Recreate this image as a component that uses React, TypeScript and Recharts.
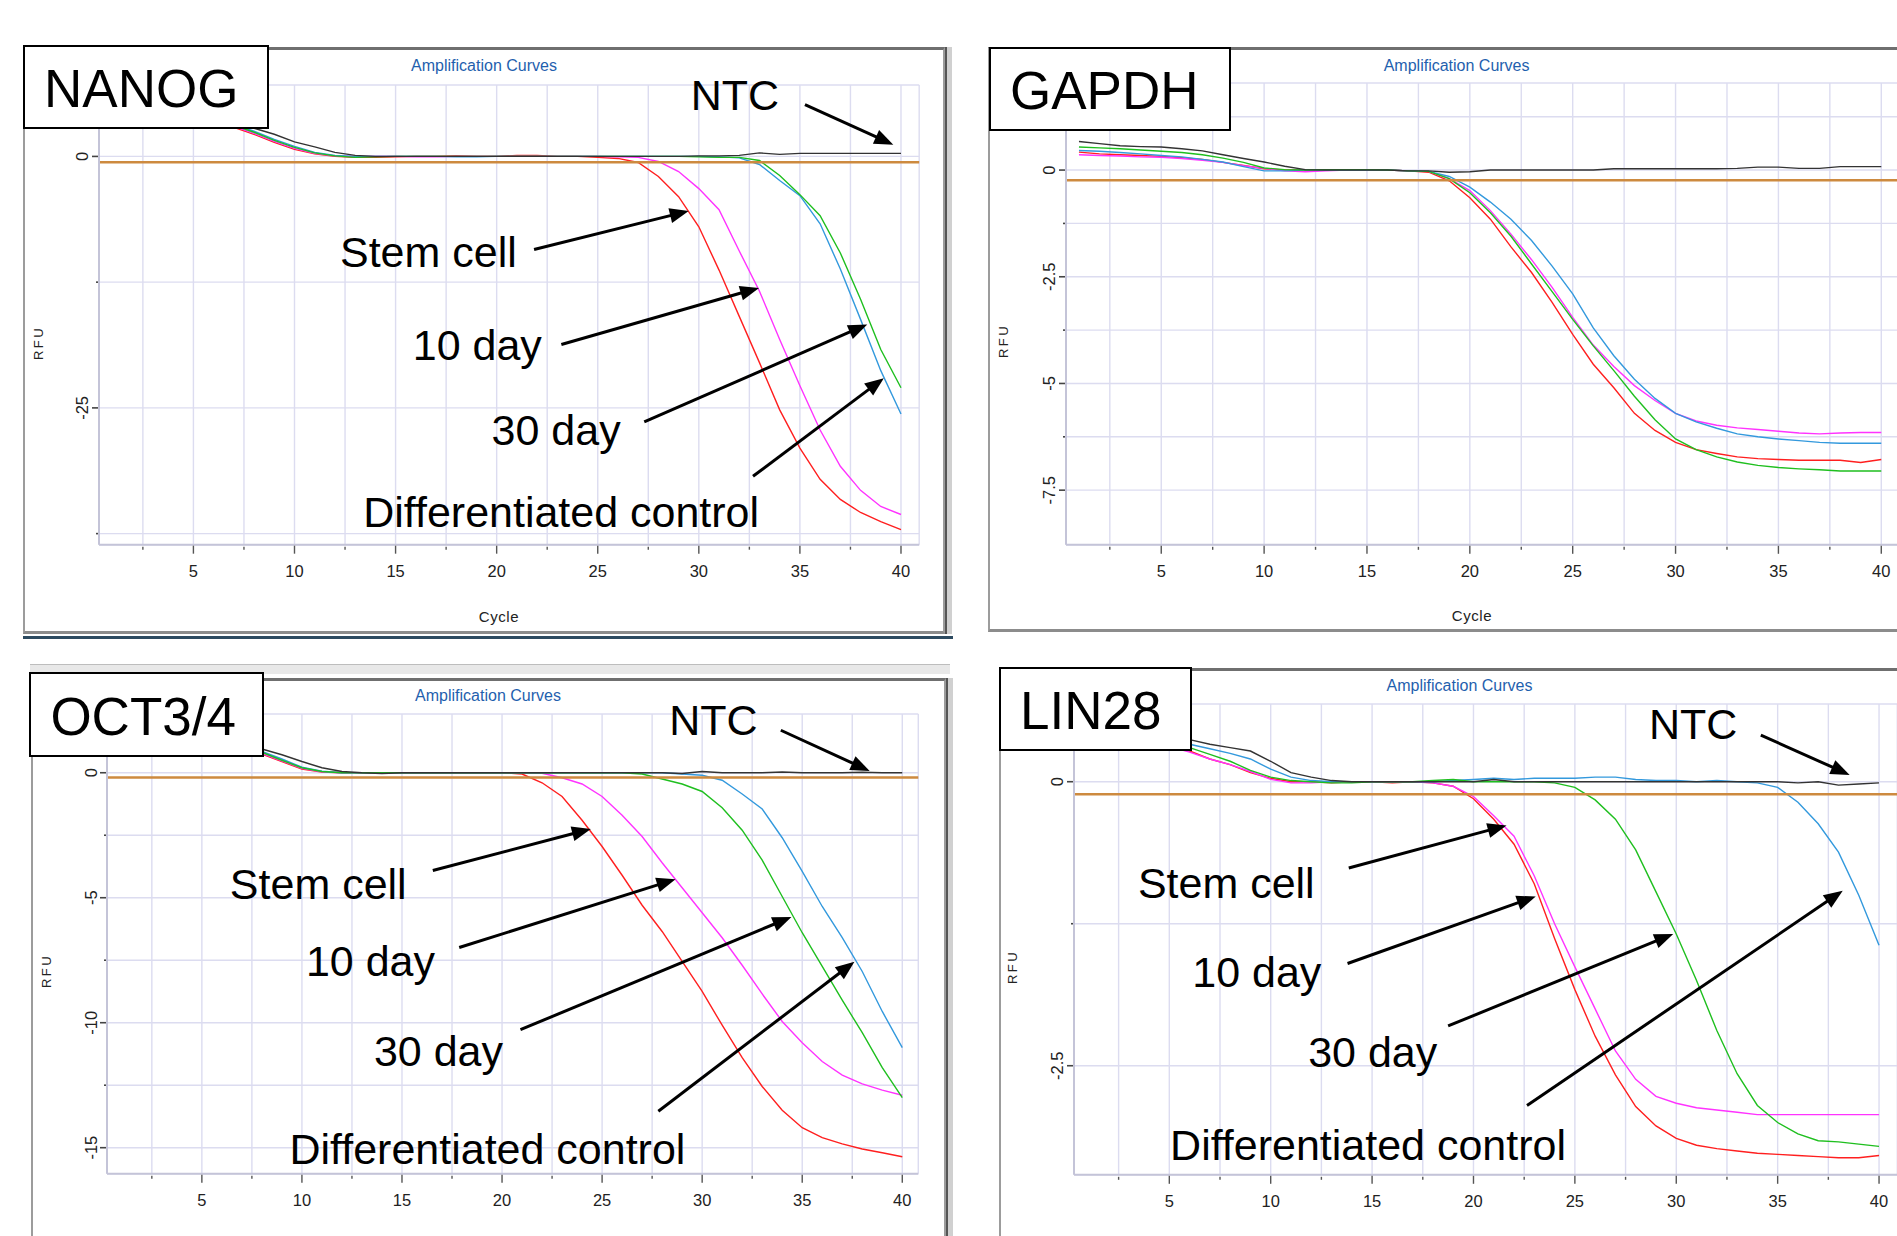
import React from 'react';
import { LineChart, Line, XAxis, YAxis, CartesianGrid, ReferenceLine, ReferenceDot } from 'recharts';

const FONT = '"Liberation Sans", Arial, Helvetica, sans-serif';

// ---------- shared axes ----------
const cycles = [
  1, 2, 3, 4, 5, 6, 7, 8, 9, 10,
  11, 12, 13, 14, 15, 16, 17, 18, 19, 20,
  21, 22, 23, 24, 25, 26, 27, 28, 29, 30,
  31, 32, 33, 34, 35, 36, 37, 38, 39, 40,
];
const xTickValues = [2.5, 5, 7.5, 10, 12.5, 15, 17.5, 20, 22.5, 25, 27.5, 30, 32.5, 35, 37.5, 40];

// ---------- NANOG ----------
const nanogRed = [
  5.0, 4.8, 4.5, 4.2, 3.8, 3.4, 2.9, 2.2, 1.4, 0.7,
  0.25, 0.02, -0.1, -0.1, -0.05, 0, 0, 0.05, 0, 0,
  0.1, 0.1, 0, 0, -0.1, -0.2, -0.6, -2.0, -4.0, -7.0,
  -11.3, -15.9, -20.5, -25.2, -29.0, -32.1, -34.1, -35.4, -36.3, -37.1,
];
const nanogMagenta = [
  5.1, 4.9, 4.6, 4.3, 3.9, 3.5, 3.0, 2.3, 1.5, 0.8,
  0.3, 0.05, 0, 0, 0, -0.05, -0.05, 0, 0, 0,
  0, 0, 0, 0, 0, -0.05, -0.1, -0.5, -1.5, -3.2,
  -5.3, -9.4, -13.4, -18.2, -22.8, -27.2, -30.8, -33.2, -34.8, -35.6,
];
const nanogGreen = [
  5.2, 5.0, 4.7, 4.4, 4.0, 3.6, 3.1, 2.4, 1.6, 0.9,
  0.35, 0.05, -0.1, -0.05, 0, 0, 0, 0, 0, 0,
  0, 0, 0, 0, 0, 0, 0, 0, 0, -0.05,
  -0.1, -0.1, -0.4, -1.9, -3.8, -5.9, -9.6, -14.2, -19.2, -23.0,
];
const nanogBlue = [
  5.3, 5.1, 4.8, 4.5, 4.1, 3.7, 3.2, 2.5, 1.7, 1.0,
  0.4, 0.1, 0, 0, 0, 0, 0, -0.05, -0.05, 0,
  0, 0, 0, 0, 0, 0, 0, 0, 0, 0,
  -0.05, -0.15, -0.8, -2.4, -3.9, -6.7, -11.2, -16.2, -21.3, -25.6,
];
const nanogBlack = [
  5.4, 5.2, 4.9, 4.6, 4.2, 3.8, 3.3, 2.8, 2.2, 1.45,
  0.95, 0.4, 0.1, 0, 0, 0, 0, 0, 0, 0,
  0, 0, 0, 0, 0, 0, 0, 0, 0, 0.05,
  0.05, 0.1, 0.35, 0.2, 0.3, 0.3, 0.3, 0.3, 0.3, 0.3,
];
const nanogYTicks = [-37.5, -25, -12.5, 0];
const nanogYLabels = [-25, 0];

// ---------- GAPDH ----------
const gapdhRed = [
  0.42, 0.38, 0.36, 0.34, 0.32, 0.29, 0.25, 0.18, 0.11, 0.03,
  0, 0, 0, 0, 0, 0, -0.02, -0.05, -0.25, -0.65,
  -1.15, -1.8, -2.4, -3.1, -3.85, -4.55, -5.1, -5.7, -6.1, -6.38,
  -6.55, -6.64, -6.72, -6.76, -6.78, -6.8, -6.8, -6.8, -6.85, -6.78,
];
const gapdhMagenta = [
  0.36, 0.34, 0.33, 0.31, 0.3, 0.27, 0.23, 0.18, 0.1, 0.04,
  -0.02, -0.04, -0.02, 0, 0, 0, -0.02, -0.03, -0.2, -0.48,
  -0.95, -1.5, -2.1, -2.75, -3.45, -4.1, -4.6, -5.05, -5.4, -5.7,
  -5.88, -5.98, -6.04, -6.08, -6.12, -6.16, -6.18, -6.16, -6.15, -6.15,
];
const gapdhGreen = [
  0.54, 0.52, 0.5, 0.47, 0.44, 0.41, 0.36, 0.28, 0.18, 0.05,
  0.01, 0, 0.01, 0.01, 0.01, 0, -0.02, -0.03, -0.2, -0.53,
  -1.0, -1.55, -2.2, -2.85, -3.5, -4.12, -4.7, -5.3, -5.85, -6.3,
  -6.55, -6.72, -6.84, -6.92, -6.97, -7.0, -7.02, -7.05, -7.05, -7.05,
];
const gapdhBlue = [
  0.46, 0.44, 0.41, 0.38, 0.34, 0.31, 0.25, 0.19, 0.08, -0.02,
  -0.02, 0, 0, 0, 0, 0, -0.02, -0.03, -0.15, -0.4,
  -0.75, -1.15, -1.65, -2.25, -2.9, -3.7, -4.35, -4.9, -5.35, -5.7,
  -5.9, -6.05, -6.18, -6.25, -6.3, -6.34, -6.38, -6.4, -6.4, -6.4,
];
const gapdhBlack = [
  0.67, 0.62, 0.57, 0.55, 0.54, 0.5, 0.45, 0.36, 0.27, 0.19,
  0.09, 0.01, 0, 0, 0, 0, -0.02, -0.02, -0.05, -0.04,
  0, 0, 0, 0, 0, 0, 0.03, 0.03, 0.03, 0.03,
  0.03, 0.03, 0.04, 0.07, 0.07, 0.04, 0.04, 0.08, 0.08, 0.08,
];
const gapdhYTicks = [-7.5, -6.25, -5, -3.75, -2.5, -1.25, 0, 1.25];
const gapdhYLabels = [-7.5, -5, -2.5, 0];

// ---------- OCT3/4 ----------
const octRed = [
  1.8, 1.7, 1.6, 1.5, 1.4, 1.25, 1.05, 0.75, 0.45, 0.15,
  0.03, 0, 0, 0, 0, 0, 0, 0, 0, 0,
  -0.05, -0.4, -0.95, -1.9, -2.95, -4.1, -5.3, -6.35, -7.55, -8.75,
  -10.1, -11.4, -12.55, -13.5, -14.2, -14.6, -14.85, -15.05, -15.2, -15.36,
];
const octMagenta = [
  1.8, 1.7, 1.6, 1.5, 1.4, 1.25, 1.05, 0.78, 0.48, 0.18,
  0.04, 0, 0, 0, 0, 0, 0, 0, 0, 0,
  0, -0.02, -0.2, -0.45, -0.95, -1.7, -2.55, -3.6, -4.6, -5.6,
  -6.6, -7.7, -8.85, -9.95, -10.8, -11.55, -12.1, -12.45, -12.7, -12.9,
];
const octGreen = [
  1.85, 1.75, 1.65, 1.55, 1.45, 1.3, 1.1, 0.82, 0.5, 0.2,
  0.05, 0, 0, 0, 0, 0, 0, 0, 0, 0,
  0, 0, 0, 0, 0, 0, -0.05, -0.25, -0.45, -0.75,
  -1.4, -2.3, -3.5, -4.95, -6.4, -7.75, -9.1, -10.4, -11.8, -13.0,
];
const octBlue = [
  1.9, 1.8, 1.7, 1.6, 1.5, 1.35, 1.15, 0.85, 0.55, 0.22,
  0.06, 0, 0, 0, 0, 0, 0, 0, 0, 0,
  0, 0, 0, 0, 0, 0, 0, 0, -0.05, -0.1,
  -0.3, -0.85, -1.45, -2.6, -3.95, -5.35, -6.6, -7.95, -9.55, -11.0,
];
const octBlack = [
  2.0, 1.9, 1.8, 1.7, 1.6, 1.45, 1.25, 0.95, 0.72, 0.45,
  0.2, 0.05, 0, -0.03, 0, 0, 0, 0, 0, 0,
  0, 0, 0, 0, 0, 0, 0, 0, -0.03, 0.05,
  0, 0, 0, 0.03, 0, 0, 0, 0.02, 0, 0,
];
const octYTicks = [-15, -12.5, -10, -7.5, -5, -2.5, 0];
const octYLabels = [-15, -10, -5, 0];

// ---------- LIN28 ----------
const linRed = [
  0.5, 0.45, 0.4, 0.36, 0.32, 0.27, 0.2, 0.15, 0.08, 0.03,
  0, 0, -0.01, 0, 0, -0.01, 0, -0.01, -0.04, -0.15,
  -0.33, -0.55, -0.9, -1.38, -1.83, -2.24, -2.58, -2.86, -3.03, -3.14,
  -3.2, -3.23, -3.25, -3.27, -3.28, -3.29, -3.3, -3.31, -3.31, -3.29,
];
const linMagenta = [
  0.5, 0.45, 0.4, 0.36, 0.31, 0.26, 0.2, 0.15, 0.09, 0.02,
  -0.01, -0.01, 0, 0, 0, 0, 0, -0.01, -0.04, -0.13,
  -0.3, -0.48, -0.83, -1.25, -1.63, -2.0, -2.37, -2.62, -2.77, -2.83,
  -2.87, -2.89, -2.91, -2.93, -2.93, -2.93, -2.93, -2.93, -2.93, -2.93,
];
const linGreen = [
  0.52, 0.48, 0.43, 0.39, 0.35, 0.3, 0.24, 0.18, 0.1, 0.04,
  0.01, 0, -0.01, -0.01, 0, 0, 0, 0.01, 0.02, 0,
  0, 0, 0, -0.01, -0.05, -0.16, -0.33, -0.6, -0.97, -1.34,
  -1.75, -2.19, -2.57, -2.85, -3.0, -3.1, -3.16, -3.17, -3.19, -3.21,
];
const linBlue = [
  0.55, 0.5, 0.45, 0.41, 0.37, 0.33, 0.29, 0.25, 0.2, 0.11,
  0.04, 0.01, 0, 0, 0, 0, 0, 0, 0.01, 0.02,
  0.03, 0.02, 0.03, 0.03, 0.03, 0.04, 0.04, 0.02, 0.01, 0.01,
  0, 0.01, 0, -0.01, -0.05, -0.18, -0.37, -0.62, -1.0, -1.44,
];
const linBlack = [
  0.6, 0.55, 0.5, 0.46, 0.42, 0.37, 0.33, 0.3, 0.27, 0.18,
  0.08, 0.04, 0.01, 0, 0, 0, 0, 0, 0, 0,
  0.02, 0, 0, 0, 0, 0, 0, 0, 0, 0,
  0, 0, 0, 0, 0, -0.01, 0, -0.03, -0.02, -0.01,
];
const linYTicks = [-2.5, -1.25, 0];
const linYLabels = [-2.5, 0];

// ---------- styles ----------
const COLORS = { red: '#ff1f1f', magenta: '#ff33ff', green: '#1fbf1f', blue: '#3399dd', black: '#333333' };

type Series = { key: string; color: string; values: number[] };
type Txt = { text: string; x: number; y: number };
type Arrow = { x1: number; y1: number; x2: number; y2: number };
type PanelDef = {
  title: string;
  plot: { l: number; t: number; r: number; b: number };
  xDomain: [number, number];
  yDomain: [number, number];
  yTicks: number[];
  yLabels: number[];
  threshold: number;
  series: Series[];
  texts: Txt[];
  arrows: Arrow[];
  frame: { l: number; t: number; r: number; b: number };
  box: { l: number; t: number; w: number; h: number };
  amp: { x: number; y: number };
  rfu: { x: number; y: number };
  cyc: { x: number; y: number };
  scroll?: boolean;
};

const mkSeries = (r: number[], m: number[], g: number[], b: number[], k: number[]): Series[] => [
  { key: 'red', color: COLORS.red, values: r },
  { key: 'magenta', color: COLORS.magenta, values: m },
  { key: 'blue', color: COLORS.blue, values: b },
  { key: 'green', color: COLORS.green, values: g },
  { key: 'black', color: COLORS.black, values: k },
];

const panels: PanelDef[] = [
  {
    title: 'NANOG',
    plot: { l: 99.2, t: 84.7, r: 919.4, b: 544.4 },
    xDomain: [0.33, 40.9],
    yDomain: [-38.6, 7.1],
    yTicks: nanogYTicks,
    yLabels: nanogYLabels,
    threshold: -0.59,
    series: mkSeries(nanogRed, nanogMagenta, nanogGreen, nanogBlue, nanogBlack),
    texts: [
      { text: 'NTC', x: 29.6, y: 4.58 },
      { text: 'Stem cell', x: 12.25, y: -10.95 },
      { text: '10 day', x: 15.85, y: -20.25 },
      { text: '30 day', x: 19.75, y: -28.7 },
      { text: 'Differentiated control', x: 13.4, y: -36.8 },
    ],
    arrows: [
      { x1: 35.25, y1: 5.15, x2: 39.62, y2: 1.17 },
      { x1: 21.85, y1: -9.25, x2: 29.5, y2: -5.43 },
      { x1: 23.2, y1: -18.7, x2: 32.98, y2: -13.07 },
      { x1: 27.3, y1: -26.4, x2: 38.33, y2: -16.7 },
      { x1: 32.68, y1: -31.8, x2: 39.15, y2: -22.05 },
    ],
    frame: { l: 23, t: 47, r: 945, b: 634 },
    box: { l: 23, t: 45, w: 246, h: 84 },
    amp: { x: 484, y: 65.6 },
    rfu: { x: 38.3, y: 342.5 },
    cyc: { x: 499, y: 615.5 },
    scroll: true,
  },
  {
    title: 'GAPDH',
    plot: { l: 1066, t: 83.4, r: 1899.8, b: 545.2 },
    xDomain: [0.37, 40.9],
    yDomain: [-8.78, 2.04],
    yTicks: gapdhYTicks,
    yLabels: gapdhYLabels,
    threshold: -0.24,
    series: mkSeries(gapdhRed, gapdhMagenta, gapdhGreen, gapdhBlue, gapdhBlack),
    texts: [],
    arrows: [],
    frame: { l: 988, t: 47, r: 1910, b: 632 },
    box: { l: 989, t: 47, w: 242, h: 84 },
    amp: { x: 1456.6, y: 65.5 },
    rfu: { x: 1003.4, y: 341.4 },
    cyc: { x: 1472, y: 614.6 },
  },
  {
    title: 'OCT3/4',
    plot: { l: 107.2, t: 713.5, r: 918.5, b: 1173.2 },
    xDomain: [0.26, 40.8],
    yDomain: [-16.04, 2.35],
    yTicks: octYTicks,
    yLabels: octYLabels,
    threshold: -0.19,
    series: mkSeries(octRed, octMagenta, octGreen, octBlue, octBlack),
    texts: [
      { text: 'NTC', x: 28.35, y: 1.5 },
      { text: 'Stem cell', x: 6.4, y: -5.05 },
      { text: '10 day', x: 10.2, y: -8.15 },
      { text: '30 day', x: 13.6, y: -11.75 },
      { text: 'Differentiated control', x: 9.38, y: -15.66 },
    ],
    arrows: [
      { x1: 33.93, y1: 1.7, x2: 38.37, y2: 0.07 },
      { x1: 16.54, y1: -3.91, x2: 24.44, y2: -2.25 },
      { x1: 17.86, y1: -6.99, x2: 28.67, y2: -4.26 },
      { x1: 20.92, y1: -10.28, x2: 34.46, y2: -5.77 },
      { x1: 27.81, y1: -13.54, x2: 37.61, y2: -7.56 },
    ],
    frame: { l: 31, t: 678, r: 946, b: 1260 },
    box: { l: 29.4, t: 672.4, w: 235, h: 85 },
    amp: { x: 488, y: 695.6 },
    rfu: { x: 46, y: 970.5 },
    cyc: { x: 504, y: 1245 },
    scroll: true,
  },
  {
    title: 'LIN28',
    plot: { l: 1073.6, t: 704.2, r: 1896.9, b: 1175 },
    xDomain: [0.3, 40.9],
    yDomain: [-3.46, 0.684],
    yTicks: linYTicks,
    yLabels: linYLabels,
    threshold: -0.11,
    series: mkSeries(linRed, linMagenta, linGreen, linBlue, linBlack),
    texts: [
      { text: 'NTC', x: 28.65, y: 0.378 },
      { text: 'Stem cell', x: 3.45, y: -1.02 },
      { text: '10 day', x: 6.13, y: -1.81 },
      { text: '30 day', x: 11.85, y: -2.51 },
      { text: 'Differentiated control', x: 5.04, y: -3.33 },
    ],
    arrows: [
      { x1: 34.17, y1: 0.41, x2: 38.55, y2: 0.06 },
      { x1: 13.85, y1: -0.76, x2: 21.63, y2: -0.385 },
      { x1: 13.79, y1: -1.6, x2: 23.07, y2: -1.01 },
      { x1: 18.75, y1: -2.15, x2: 29.85, y2: -1.34 },
      { x1: 22.64, y1: -2.85, x2: 38.21, y2: -0.96 },
    ],
    frame: { l: 999, t: 668, r: 1910, b: 1260 },
    box: { l: 999, t: 667, w: 193, h: 84 },
    amp: { x: 1459.5, y: 686 },
    rfu: { x: 1012, y: 966.7 },
    cyc: { x: 1480, y: 1250 },
  },
];

const ArrowShape = (props: any) => {
  const { x1, y1, x2, y2 } = props;
  const dx = x2 - x1;
  const dy = y2 - y1;
  const len = Math.hypot(dx, dy) || 1;
  const ux = dx / len;
  const uy = dy / len;
  const hl = 19;
  const hw = 7.5;
  const bx = x2 - ux * hl;
  const by = y2 - uy * hl;
  return (
    <g>
      <line x1={x1} y1={y1} x2={bx + ux * 2} y2={by + uy * 2} stroke="#000" strokeWidth={3} />
      <polygon
        points={`${x2},${y2} ${bx - uy * hw},${by + ux * hw} ${bx + uy * hw},${by - ux * hw}`}
        fill="#000"
      />
    </g>
  );
};

const LP = 60;
const TP = 60;
const RP = 6;
const BP = 46;

function Panel({ def }: { def: PanelDef }) {
  const { plot } = def;
  const plotW = plot.r - plot.l;
  const plotH = plot.b - plot.t;
  const w = plotW + LP + RP;
  const h = plotH + TP + BP;
  const axisY = TP + plotH;
  const data = cycles.map((c, i) => {
    const row: any = { cycle: c };
    def.series.forEach((s) => {
      row[s.key] = s.values[i];
    });
    return row;
  });

  const XTick = (p: any) => {
    const v = p.payload.value;
    const major = v % 5 === 0;
    return (
      <g>
        <line x1={p.x} x2={p.x} y1={axisY + (major ? 1 : 2)} y2={axisY + (major ? 9 : 5)} stroke="#555" strokeWidth={1.4} />
        {major && (
          <text x={p.x} y={axisY + 26} textAnchor="middle" dominantBaseline="central" fontSize={16.5} fill="#222" fontFamily={FONT}>
            {v}
          </text>
        )}
      </g>
    );
  };
  const YTick = (p: any) => {
    const v = p.payload.value;
    const lab = def.yLabels.includes(v);
    const lx = LP - 16.5;
    return (
      <g>
        <line x1={LP - (lab ? 7 : 3)} x2={LP - 1} y1={p.y} y2={p.y} stroke="#444" strokeWidth={1.6} />
        {lab && (
          <text
            x={lx}
            y={p.y}
            transform={`rotate(-90 ${lx} ${p.y})`}
            textAnchor="middle"
            dominantBaseline="central"
            fontSize={16.5}
            fill="#222"
            fontFamily={FONT}
          >
            {String(v)}
          </text>
        )}
      </g>
    );
  };

  const f = def.frame;
  return (
    <>
      <div
        style={{
          position: 'absolute',
          left: f.l,
          top: f.t,
          width: f.r - f.l,
          height: f.b - f.t,
          boxSizing: 'border-box',
          borderTop: '3px solid #6f6f6f',
          borderLeft: '2px solid #9c9c9c',
          borderRight: '2px solid #9c9c9c',
          borderBottom: '3px solid #8c8c8c',
          background: '#fff',
        }}
      />
      {def.scroll && (
        <div
          style={{
            position: 'absolute',
            left: f.r,
            top: f.t,
            width: 7,
            height: f.b - f.t,
            background: '#d0d0d0',
            borderLeft: '2px solid #555',
            boxSizing: 'border-box',
          }}
        />
      )}
      <div
        style={{
          position: 'absolute',
          left: def.amp.x,
          top: def.amp.y,
          transform: 'translate(-50%, -50%)',
          fontFamily: FONT,
          fontSize: 16,
          color: '#1f5fae',
          whiteSpace: 'nowrap',
        }}
      >
        Amplification Curves
      </div>
      <div
        style={{
          position: 'absolute',
          left: def.rfu.x,
          top: def.rfu.y,
          transform: 'translate(-50%, -50%) rotate(-90deg)',
          fontFamily: FONT,
          fontSize: 13,
          letterSpacing: 2.5,
          color: '#222',
          whiteSpace: 'nowrap',
        }}
      >
        RFU
      </div>
      <div
        style={{
          position: 'absolute',
          left: def.cyc.x,
          top: def.cyc.y,
          transform: 'translate(-50%, -50%)',
          fontFamily: FONT,
          fontSize: 15,
          letterSpacing: 0.6,
          color: '#222',
          whiteSpace: 'nowrap',
        }}
      >
        Cycle
      </div>
      <div style={{ position: 'absolute', left: plot.l - LP, top: plot.t - TP, width: w, height: h }}>
        <LineChart width={w} height={h} data={data} margin={{ top: TP, right: RP, bottom: 0, left: 0 }}>
          <CartesianGrid stroke="#dcdcf0" strokeWidth={1.4} />
          <XAxis
            type="number"
            dataKey="cycle"
            domain={def.xDomain}
            ticks={xTickValues}
            interval={0}
            allowDataOverflow
            height={BP}
            tickLine={false}
            axisLine={{ stroke: '#c4c4d8', strokeWidth: 2 }}
            tick={XTick}
          />
          <YAxis
            type="number"
            domain={def.yDomain}
            ticks={def.yTicks}
            interval={0}
            allowDataOverflow
            width={LP}
            tickLine={false}
            axisLine={{ stroke: '#c4c4d8', strokeWidth: 2 }}
            tick={YTick}
          />
          {def.series.map((s) => (
            <Line
              key={s.key}
              type="linear"
              dataKey={s.key}
              stroke={s.color}
              strokeWidth={1.4}
              dot={false}
              activeDot={false}
              isAnimationActive={false}
            />
          ))}
          <ReferenceLine y={def.threshold} stroke="#cd8a3f" strokeWidth={2.5} ifOverflow="visible" />
          {def.arrows.map((a, i) => (
            <ReferenceLine
              key={'arrow' + i}
              segment={[
                { x: a.x1, y: a.y1 },
                { x: a.x2, y: a.y2 },
              ]}
              ifOverflow="visible"
              shape={ArrowShape}
            />
          ))}
          {def.texts.map((t, i) => (
            <ReferenceDot
              key={'txt' + i}
              x={t.x}
              y={t.y}
              r={0}
              ifOverflow="visible"
              shape={(p: any) => (
                <text x={p.cx} y={p.cy} fontSize={43} fontFamily={FONT} fill="#000">
                  {t.text}
                </text>
              )}
            />
          ))}
        </LineChart>
      </div>
      <div
        style={{
          position: 'absolute',
          left: def.box.l,
          top: def.box.t,
          width: def.box.w,
          height: def.box.h,
          boxSizing: 'border-box',
          border: '2px solid #000',
          background: '#fff',
          display: 'flex',
          alignItems: 'center',
          paddingLeft: 19,
          paddingTop: 3,
          fontFamily: FONT,
          fontSize: 53,
          color: '#000',
          whiteSpace: 'nowrap',
        }}
      >
        {def.title}
      </div>
    </>
  );
}

export default function App() {
  return (
    <div
      style={{
        position: 'absolute',
        left: 0,
        top: 0,
        width: 1897,
        height: 1236,
        overflow: 'hidden',
        background: '#fff',
        fontFamily: FONT,
      }}
    >
      {/* tab strip above the lower-left window */}
      <div
        style={{
          position: 'absolute',
          left: 30,
          top: 664,
          width: 920,
          height: 9,
          background: '#e8e8e8',
          borderTop: '1px solid #bdbdbd',
        }}
      />
      {/* dark bottom edge under the upper-left window */}
      <div style={{ position: 'absolute', left: 23, top: 636, width: 930, height: 3, background: '#2c4a60' }} />
      {panels.map((p) => (
        <Panel key={p.title} def={p} />
      ))}
    </div>
  );
}
